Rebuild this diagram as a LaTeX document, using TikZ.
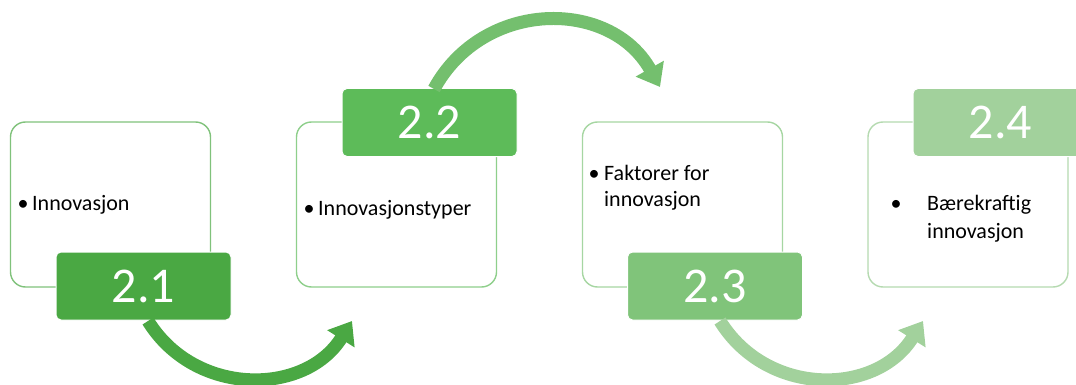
\documentclass[tikz,border=0pt]{standalone}
\usepackage{fontspec}
\setmainfont{Carlito}
\usepackage{tikz}
\usetikzlibrary{arrows.meta}
\definecolor{gA}{HTML}{4AA843}
\definecolor{gB}{HTML}{5DBB59}
\definecolor{gC}{HTML}{80C47A}
\definecolor{gD}{HTML}{A2D19C}
\definecolor{arcB}{HTML}{74BF6E}
\tikzset{box/.style={rectangle,draw=#1,fill=white,line width=1.4pt,rounded corners=15pt,minimum width=200pt,minimum height=165pt},
         lab/.style={rectangle,fill=#1,draw=white,line width=1pt,rounded corners=5pt,minimum width=175pt,minimum height=68pt,text=white,font=\fontsize{50}{50}\selectfont},
         txt/.style={anchor=base west,inner sep=0pt,font=\fontsize{22}{28}\selectfont},
         dot/.style={anchor=base,inner sep=0pt,font=\fontsize{22}{28}\selectfont},
         arr/.style={draw=#1,line width=13pt,-{Triangle[width=31pt,length=21pt]}}}

\begin{document}
\begin{tikzpicture}[x=1pt,y=-1pt]
    \useasboundingbox (0,0) rectangle (1076,385);

    \node[box=gA!70] (b1) at (110.5,204.5) {};
    \node[box=gB!70] (b2) at (396.5,204.5) {};
    \node[box=gC!70] (b3) at (682.5,204.5) {};
    \node[box=gD!80] (b4) at (968,204.5) {};

    \node[lab=gA] (l1) at (143.5,286) {2.1};
    \node[lab=gB] (l2) at (429.5,122.5) {2.2};
    \node[lab=gC] (l3) at (715,286) {2.3};
    \node[lab=gD] (l4) at (1000.5,122.5) {2.4};

    \node[dot] (d1) at (23,210) {\textbullet};
    \node[txt] (t1) at (32,210) {Innovasjon};
    \node[dot] (d2) at (309,215) {\textbullet};
    \node[txt] (t2) at (318,215) {Innovasjonstyper};
    \node[dot] (d3) at (594,180) {\textbullet};
    \node[txt] (t3) at (604,180) {Faktorer for};
    \node[txt] (t3b) at (604,206) {innovasjon};
    \node[dot] (d4) at (896,210) {\textbullet};
    \node[txt] (t4) at (927,210) {Bærekraftig};
    \node[txt] (t4b) at (927,238) {innovasjon};

    \coordinate (s1) at (148,321);
    \coordinate (e1) at (352,321);
    \coordinate (s2) at (434,89);
    \coordinate (e2) at (660,87);
    \coordinate (s3) at (720,321);
    \coordinate (e3) at (923,321);

    \draw [arr=gA] (s1) .. controls (195,397) and (305,396) .. (e1);
    \draw [arr=arcB] (s2) .. controls (483,-1) and (610,-2) .. (e2);
    \draw [arr=gD] (s3) .. controls (767,397) and (876,396) .. (e3);
\end{tikzpicture}
\end{document}
